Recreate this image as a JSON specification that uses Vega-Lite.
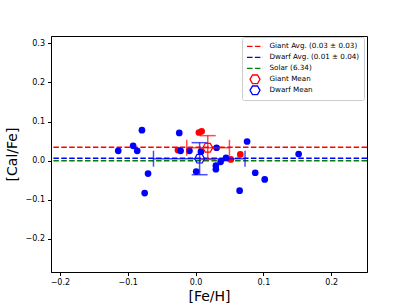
{
  "$schema": "https://vega.github.io/schema/vega-lite/v6.json",
  "width": 316,
  "height": 236,
  "autosize": {"type": "none"},
  "padding": {"left": 51, "top": 36, "right": 40, "bottom": 33},
  "background": "white",
  "config": {
    "font": "DejaVu Sans",
    "view": {"stroke": "black", "strokeWidth": 1},
    "axis": {
      "grid": false,
      "domainColor": "black",
      "tickColor": "black",
      "tickSize": 3.5,
      "labelFontSize": 8,
      "labelColor": "black",
      "labelFont": "DejaVu Sans",
      "titleFont": "DejaVu Sans",
      "titleFontSize": 14,
      "titleFontWeight": "normal",
      "titleColor": "black"
    }
  },
  "layer": [
    {
      "data": {"values": [{"cafe": 0.0}]},
      "mark": {"type": "rule", "color": "#008000", "strokeWidth": 1.5, "strokeDash": [5.5, 2.4]},
      "encoding": {
        "y": {
          "field": "cafe",
          "type": "quantitative",
          "scale": {"domain": [-0.285, 0.319], "nice": false, "zero": false},
          "axis": {"title": "[Cal/Fe]", "values": [-0.2, -0.1, 0, 0.1, 0.2, 0.3], "labelExpr": "replace(format(datum.value, '.1f'), '-', '−')", "titlePadding": 6, "labelPadding": 3}
        }
      }
    },
    {
      "data": {"values": [{"cafe": 0.006}]},
      "mark": {"type": "rule", "color": "#0000ff", "strokeWidth": 1.5, "strokeDash": [5.5, 2.4]},
      "encoding": {"y": {"field": "cafe", "type": "quantitative"}}
    },
    {
      "data": {"values": [{"cafe": 0.034}]},
      "mark": {"type": "rule", "color": "#ff0000", "strokeWidth": 1.5, "strokeDash": [5.5, 2.4]},
      "encoding": {"y": {"field": "cafe", "type": "quantitative"}}
    },
    {
      "data": {"values": [
        {"feh": 0.005, "cafe": 0.072},
        {"feh": 0.009, "cafe": 0.075},
        {"feh": -0.026, "cafe": 0.027},
        {"feh": 0.052, "cafe": 0.003},
        {"feh": 0.066, "cafe": 0.016}
      ]},
      "mark": {"type": "point", "filled": true, "color": "#ff0000", "size": 45, "opacity": 1},
      "encoding": {
        "x": {
          "field": "feh",
          "type": "quantitative",
          "scale": {"domain": [-0.2131, 0.2528], "nice": false, "zero": false},
          "axis": {"title": "[Fe/H]", "values": [-0.2, -0.1, 0, 0.1, 0.2], "labelExpr": "replace(format(datum.value, '.1f'), '-', '−')", "titlePadding": 3, "labelPadding": 3}
        },
        "y": {"field": "cafe", "type": "quantitative"}
      }
    },
    {
      "data": {"values": [
        {"feh": -0.114, "cafe": 0.025},
        {"feh": -0.092, "cafe": 0.038},
        {"feh": -0.086, "cafe": 0.025},
        {"feh": -0.079, "cafe": 0.078},
        {"feh": -0.075, "cafe": -0.083},
        {"feh": -0.070, "cafe": -0.033},
        {"feh": -0.024, "cafe": 0.071},
        {"feh": -0.022, "cafe": 0.025},
        {"feh": -0.009, "cafe": 0.025},
        {"feh": 0.008, "cafe": 0.023},
        {"feh": 0.031, "cafe": 0.033},
        {"feh": 0.001, "cafe": -0.028},
        {"feh": 0.030, "cafe": -0.013},
        {"feh": 0.030, "cafe": -0.022},
        {"feh": 0.037, "cafe": -0.003},
        {"feh": 0.045, "cafe": 0.007},
        {"feh": 0.076, "cafe": 0.049},
        {"feh": 0.088, "cafe": -0.031},
        {"feh": 0.102, "cafe": -0.048},
        {"feh": 0.065, "cafe": -0.077},
        {"feh": 0.152, "cafe": 0.017}
      ]},
      "mark": {"type": "point", "filled": true, "color": "#0000ff", "size": 45, "opacity": 1},
      "encoding": {
        "x": {"field": "feh", "type": "quantitative"},
        "y": {"field": "cafe", "type": "quantitative"}
      }
    },
    {
      "data": {"name": "dwarfErr", "values": [{"x": 0.006, "y": 0.005, "xlo": -0.062, "xhi": 0.073, "ylo": -0.036, "yhi": 0.046}]},
      "layer": [
        {"mark": {"type": "rule", "color": "#0000ff", "opacity": 0.7, "strokeWidth": 1.5}, "encoding": {"x": {"field": "x", "type": "quantitative"}, "y": {"field": "ylo", "type": "quantitative"}, "y2": {"field": "yhi"}}},
        {"mark": {"type": "rule", "color": "#0000ff", "opacity": 0.7, "strokeWidth": 1.5}, "encoding": {"y": {"field": "y", "type": "quantitative"}, "x": {"field": "xlo", "type": "quantitative"}, "x2": {"field": "xhi"}}},
        {"mark": {"type": "tick", "orient": "horizontal", "color": "#0000ff", "opacity": 0.7, "size": 16, "thickness": 1.5}, "encoding": {"x": {"field": "x", "type": "quantitative"}, "y": {"field": "ylo", "type": "quantitative"}}},
        {"mark": {"type": "tick", "orient": "horizontal", "color": "#0000ff", "opacity": 0.7, "size": 16, "thickness": 1.5}, "encoding": {"x": {"field": "x", "type": "quantitative"}, "y": {"field": "yhi", "type": "quantitative"}}},
        {"mark": {"type": "tick", "orient": "vertical", "color": "#0000ff", "opacity": 0.7, "size": 16, "thickness": 1.5}, "encoding": {"x": {"field": "xlo", "type": "quantitative"}, "y": {"field": "y", "type": "quantitative"}}},
        {"mark": {"type": "tick", "orient": "vertical", "color": "#0000ff", "opacity": 0.7, "size": 16, "thickness": 1.5}, "encoding": {"x": {"field": "xhi", "type": "quantitative"}, "y": {"field": "y", "type": "quantitative"}}}
      ]
    },
    {
      "data": {"name": "giantErr", "values": [{"x": 0.018, "y": 0.033, "xlo": -0.013, "xhi": 0.05, "ylo": 0.003, "yhi": 0.064}]},
      "layer": [
        {"mark": {"type": "rule", "color": "#ff0000", "opacity": 0.7, "strokeWidth": 1.5}, "encoding": {"x": {"field": "x", "type": "quantitative"}, "y": {"field": "ylo", "type": "quantitative"}, "y2": {"field": "yhi"}}},
        {"mark": {"type": "rule", "color": "#ff0000", "opacity": 0.7, "strokeWidth": 1.5}, "encoding": {"y": {"field": "y", "type": "quantitative"}, "x": {"field": "xlo", "type": "quantitative"}, "x2": {"field": "xhi"}}},
        {"mark": {"type": "tick", "orient": "horizontal", "color": "#ff0000", "opacity": 0.7, "size": 16, "thickness": 1.5}, "encoding": {"x": {"field": "x", "type": "quantitative"}, "y": {"field": "ylo", "type": "quantitative"}}},
        {"mark": {"type": "tick", "orient": "horizontal", "color": "#ff0000", "opacity": 0.7, "size": 16, "thickness": 1.5}, "encoding": {"x": {"field": "x", "type": "quantitative"}, "y": {"field": "yhi", "type": "quantitative"}}},
        {"mark": {"type": "tick", "orient": "vertical", "color": "#ff0000", "opacity": 0.7, "size": 16, "thickness": 1.5}, "encoding": {"x": {"field": "xlo", "type": "quantitative"}, "y": {"field": "y", "type": "quantitative"}}},
        {"mark": {"type": "tick", "orient": "vertical", "color": "#ff0000", "opacity": 0.7, "size": 16, "thickness": 1.5}, "encoding": {"x": {"field": "xhi", "type": "quantitative"}, "y": {"field": "y", "type": "quantitative"}}}
      ]
    },
    {
      "data": {"values": [
        {"label": "Giant Mean", "x": 0.018, "y": 0.033},
        {"label": "Dwarf Mean", "x": 0.006, "y": 0.005}
      ]},
      "mark": {"type": "point", "filled": false, "size": 49, "strokeWidth": 1.2, "opacity": 1},
      "encoding": {
        "x": {"field": "x", "type": "quantitative"},
        "y": {"field": "y", "type": "quantitative"},
        "color": {
          "field": "label",
          "type": "nominal",
          "scale": {
            "domain": ["Giant Avg. (0.03 ± 0.03)", "Dwarf Avg. (0.01 ± 0.04)", "Solar (6.34)", "Giant Mean", "Dwarf Mean"],
            "range": ["#ff0000", "#0000ff", "#008000", "#ff0000", "#0000ff"]
          },
          "legend": {
            "title": null,
            "orient": "none",
            "legendX": 191,
            "legendY": 1,
            "padding": 4,
            "strokeColor": "#cccccc",
            "fillColor": "white",
            "cornerRadius": 2,
            "labelFont": "DejaVu Sans",
            "labelFontSize": 7.2,
            "labelColor": "black",
            "symbolSize": 49,
            "symbolStrokeWidth": 1.3,
            "symbolOffset": 4.5,
            "labelOffset": 10,
            "rowPadding": 0,
            "clipHeight": 10.7,
            "gridAlign": "all",
            "encode": {"symbols": {"update": {"strokeJoin": {"value": "round"}}}}
          }
        },
        "shape": {
          "field": "label",
          "type": "nominal",
          "scale": {
            "domain": ["Giant Avg. (0.03 ± 0.03)", "Dwarf Avg. (0.01 ± 0.04)", "Solar (6.34)", "Giant Mean", "Dwarf Mean"],
            "range": [
              "M-2.29,0L-0.71,0M-0.03,0L1.54,0M2.23,0L2.29,0",
              "M-2.29,0L-0.71,0M-0.03,0L1.54,0M2.23,0L2.29,0",
              "M-2.29,0L-0.71,0M-0.03,0L1.54,0M2.23,0L2.29,0",
              "M-1.43,0L-0.714,-1.237L0.714,-1.237L1.43,0L0.714,1.237L-0.714,1.237Z",
              "M-1.43,0L-0.714,-1.237L0.714,-1.237L1.43,0L0.714,1.237L-0.714,1.237Z"
            ]
          },
          "legend": {
            "title": null,
            "orient": "none",
            "legendX": 191,
            "legendY": 1,
            "padding": 4,
            "strokeColor": "#cccccc",
            "fillColor": "white",
            "cornerRadius": 2,
            "labelFont": "DejaVu Sans",
            "labelFontSize": 7.2,
            "labelColor": "black",
            "symbolSize": 49,
            "symbolStrokeWidth": 1.3,
            "symbolOffset": 4.5,
            "labelOffset": 10,
            "rowPadding": 0,
            "clipHeight": 10.7,
            "gridAlign": "all",
            "encode": {"symbols": {"update": {"strokeJoin": {"value": "round"}}}}
          }
        }
      }
    }
  ]
}
